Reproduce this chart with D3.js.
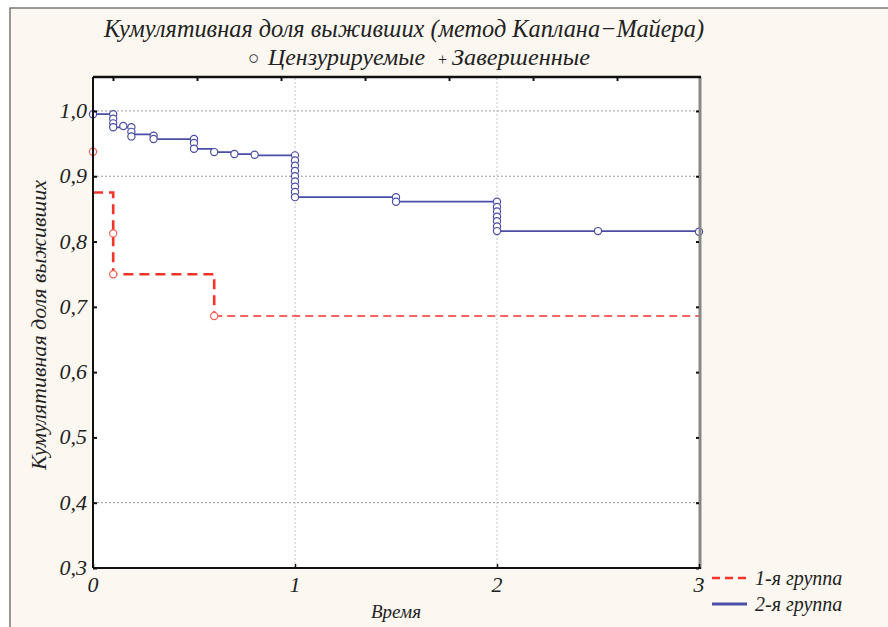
<!DOCTYPE html>
<html>
<head>
<meta charset="utf-8">
<script src="https://cdn.jsdelivr.net/npm/d3@7"></script>
<style>
  body { margin: 0; background: #fff; }
  text { font-family: "Liberation Serif", "DejaVu Serif", serif; font-style: italic; fill: #222; }
</style>
</head>
<body>
<svg id="chart" width="888" height="627"></svg>
<script>
// group 2 (blue) step curve
const blueTimes = [0, 0.1, 0.19, 0.3, 0.5, 0.6, 0.7, 0.8, 1.0, 1.5, 2.0, 3.0];
const blueSurv  = [0.995, 0.975, 0.964, 0.957, 0.942, 0.937, 0.934, 0.932, 0.868, 0.861, 0.816, 0.815];
// group 2 censored marks
const blueCensT = [0, 0.1, 0.1, 0.1, 0.1, 0.15, 0.19, 0.19, 0.19, 0.3, 0.3, 0.5, 0.5, 0.5, 0.6, 0.7, 0.8,
  1, 1, 1, 1, 1, 1, 1, 1, 1, 1.5, 1.5, 2, 2, 2, 2, 2, 2, 2, 2.5, 3];
const blueCensS = [0.995, 0.995, 0.988, 0.981, 0.975, 0.977, 0.975, 0.968, 0.961, 0.962, 0.957, 0.957, 0.951, 0.942, 0.937, 0.934, 0.933,
  0.932, 0.924, 0.916, 0.908, 0.900, 0.892, 0.884, 0.876, 0.868, 0.868, 0.861, 0.861, 0.853, 0.846, 0.838, 0.831, 0.823, 0.816, 0.816, 0.815];

// group 1 (red) step curve
const redTimes = [0, 0.1, 0.6, 3.0];
const redSurv  = [0.875, 0.75, 0.686, 0.686];
const redCensT = [0, 0.1, 0.1, 0.6];
const redCensS = [0.9375, 0.8125, 0.75, 0.686];

const yTicks = [0.3, 0.4, 0.5, 0.6, 0.7, 0.8, 0.9, 1.0];
const xTicks = [0, 1, 2, 3];
const yGrid = [0.4, 0.9, 1.0];
const xGrid = [1, 2];

const title1 = "Кумулятивная доля выживших (метод Каплана−Майера)";
const yLabel = "Кумулятивная доля выживших";
const xLabel = "Время";
const groupNames = ["1-я группа", "2-я группа"];

const blue = "#4a4ea6", red = "#f4332b";

const svg = d3.select("#chart");
const x = d3.scaleLinear().domain([0, 3]).range([93, 699]);
const y = d3.scaleLinear().domain([0.3, 1.052]).range([568, 77]);

// page background + outer frame
svg.append("rect").attr("x", 10).attr("y", 8).attr("width", 890).attr("height", 640)
  .attr("fill", "#fcf8f1").attr("stroke", "#555").attr("stroke-width", 1.2);

// plot area
svg.append("rect").attr("x", x(0)).attr("y", y.range()[1])
  .attr("width", x(3) - x(0)).attr("height", y.range()[0] - y.range()[1]).attr("fill", "#fff");

// grid
svg.append("g").selectAll("line").data(yGrid).join("line")
  .attr("x1", x(0)).attr("x2", x(3)).attr("y1", d => y(d)).attr("y2", d => y(d))
  .attr("stroke", "#999").attr("stroke-width", 1).attr("stroke-dasharray", "2,2");
svg.append("g").selectAll("line").data(xGrid).join("line")
  .attr("y1", y.range()[0]).attr("y2", y.range()[1]).attr("x1", d => x(d)).attr("x2", d => x(d))
  .attr("stroke", "#c4c4c4").attr("stroke-width", 1).attr("stroke-dasharray", "2,2");

const step = d3.line().x(d => x(d[0])).y(d => y(d[1])).curve(d3.curveStepAfter);

// red curve, heavier up to the last event, lighter tail
const redPts = redTimes.map((t, i) => [t, redSurv[i]]);
svg.append("path").attr("d", step(redPts.slice(0, 3)))
  .attr("fill", "none").attr("stroke", red).attr("stroke-width", 2.6).attr("stroke-dasharray", "10,6");
svg.append("path").attr("d", step(redPts.slice(2)))
  .attr("fill", "none").attr("stroke", red).attr("stroke-width", 1.5).attr("stroke-dasharray", "8,5");

// blue curve
const bluePts = blueTimes.map((t, i) => [t, blueSurv[i]]);
svg.append("path").attr("d", step(bluePts))
  .attr("fill", "none").attr("stroke", blue).attr("stroke-width", 1.7);

// censored marks
svg.append("g").selectAll("circle").data(redCensT).join("circle")
  .attr("cx", d => x(d)).attr("cy", (d, i) => y(redCensS[i])).attr("r", 3.6)
  .attr("fill", "#fff").attr("stroke", "#f0614f").attr("stroke-width", 1.2);
svg.append("g").selectAll("circle").data(blueCensT).join("circle")
  .attr("cx", d => x(d)).attr("cy", (d, i) => y(blueCensS[i])).attr("r", 3.6)
  .attr("fill", "#fff").attr("stroke", blue).attr("stroke-width", 1.2);

// frame
const fr = svg.append("g");
fr.append("line").attr("x1", x(3) + 1).attr("x2", x(3) + 1).attr("y1", y.range()[1]).attr("y2", y.range()[0] + 1)
  .attr("stroke", "#888").attr("stroke-width", 3);
fr.append("line").attr("x1", x(0)).attr("x2", x(3) + 2).attr("y1", y.range()[1]).attr("y2", y.range()[1])
  .attr("stroke", "#111").attr("stroke-width", 2.5);
fr.append("line").attr("x1", x(0)).attr("x2", x(3) + 2).attr("y1", y.range()[0]).attr("y2", y.range()[0])
  .attr("stroke", "#111").attr("stroke-width", 2);
fr.append("line").attr("x1", x(0)).attr("x2", x(0)).attr("y1", y.range()[1]).attr("y2", y.range()[0])
  .attr("stroke", "#111").attr("stroke-width", 2);

// axes (ticks pointing inward)
const leftAxis = svg.append("g").attr("transform", `translate(${x(0)},0)`)
  .call(d3.axisRight(y).tickValues(yTicks).tickSize(4).tickFormat(""));
leftAxis.select(".domain").remove();
leftAxis.selectAll("line").attr("stroke", "#111").attr("stroke-width", 2);
svg.append("g").selectAll("text").data(yTicks).join("text")
  .attr("x", x(0) - 6).attr("y", d => y(d) + 7).attr("text-anchor", "end")
  .attr("font-size", 22).text(d => d3.format(".1f")(d).replace(".", ","));

const rightAxis = svg.append("g").attr("transform", `translate(${x(3)},0)`)
  .call(d3.axisLeft(y).tickValues(yTicks).tickSize(3).tickFormat(""));
rightAxis.select(".domain").remove();
rightAxis.selectAll("line").attr("stroke", "#111").attr("stroke-width", 2);

const bottomAxis = svg.append("g").attr("transform", `translate(0,${y.range()[0]})`)
  .call(d3.axisTop(x).tickValues(xTicks).tickSize(4).tickFormat(""));
bottomAxis.select(".domain").remove();
bottomAxis.selectAll("line").attr("stroke", "#111").attr("stroke-width", 1.5);
svg.append("g").selectAll("text").data(xTicks).join("text")
  .attr("x", d => x(d)).attr("y", y.range()[0] + 24).attr("text-anchor", "middle")
  .attr("font-size", 22).text(d => d);

// top border minor ticks (secondary scale)
const xTop = d3.scaleLinear().domain([-0.238, 6.976]).range([93, 699]);
const topAxis = svg.append("g").attr("transform", `translate(0,${y.range()[1]})`)
  .call(d3.axisBottom(xTop).tickValues(d3.range(7)).tickSize(4).tickFormat(""));
topAxis.select(".domain").remove();
topAxis.selectAll("line").attr("stroke", "#111").attr("stroke-width", 2);

// titles
svg.append("text").attr("x", 404).attr("y", 37).attr("text-anchor", "middle")
  .attr("font-size", 25).attr("textLength", 600).attr("lengthAdjust", "spacingAndGlyphs").text(title1);
const sub = svg.append("text").attr("y", 65).attr("font-size", 24);
sub.append("tspan").attr("x", 248).attr("font-size", 19).attr("font-style", "normal").attr("dy", -1).text("○");
sub.append("tspan").attr("x", 268).attr("dy", 1).attr("textLength", 157).attr("lengthAdjust", "spacingAndGlyphs").text("Цензурируемые");
sub.append("tspan").attr("x", 438).attr("font-size", 16).attr("font-style", "normal").text("+");
sub.append("tspan").attr("x", 452).attr("textLength", 138).attr("lengthAdjust", "spacingAndGlyphs").text("Завершенные");

svg.append("text").attr("transform", "translate(46,325) rotate(-90)").attr("text-anchor", "middle")
  .attr("font-size", 21).attr("textLength", 290).attr("lengthAdjust", "spacingAndGlyphs").text(yLabel);
svg.append("text").attr("x", 396).attr("y", 618).attr("text-anchor", "middle")
  .attr("font-size", 19).text(xLabel);

// legend
const leg = svg.append("g");
const legY = [578, 604];
leg.append("line").attr("x1", 712).attr("x2", 747).attr("y1", legY[0]).attr("y2", legY[0])
  .attr("stroke", red).attr("stroke-width", 2.6).attr("stroke-dasharray", "8,5");
leg.append("line").attr("x1", 712).attr("x2", 747).attr("y1", legY[1]).attr("y2", legY[1])
  .attr("stroke", blue).attr("stroke-width", 3);
leg.selectAll("text").data(groupNames).join("text")
  .attr("x", 755).attr("y", (d, i) => legY[i] + 7).attr("font-size", 20).text(d => d);
</script>
</body>
</html>
